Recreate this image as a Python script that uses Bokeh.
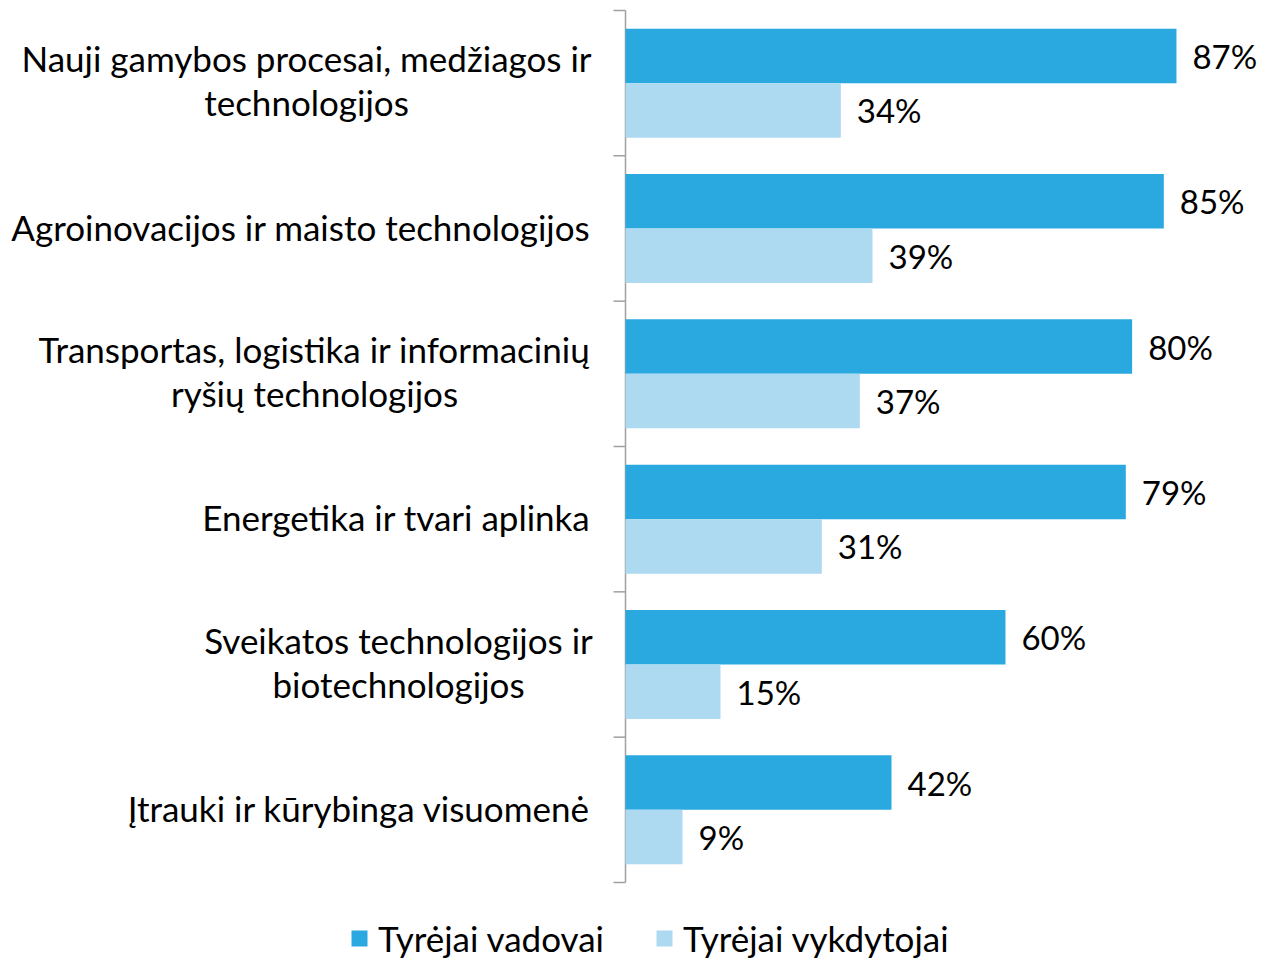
from bokeh.plotting import figure
from bokeh.models import ColumnDataSource, Legend, LegendItem
from bokeh.core.properties import value
from bokeh.embed import file_html
from bokeh.resources import INLINE

# ---- data ----
categories = [
    "Nauji gamybos procesai, medžiagos ir\ntechnologijos",
    "Agroinovacijos ir maisto technologijos",
    "Transportas, logistika ir informacinių\nryšių technologijos",
    "Energetika ir tvari aplinka",
    "Sveikatos technologijos ir\nbiotechnologijos",
    "Įtrauki ir kūrybinga visuomenė",
]
vadovai = [87, 85, 80, 79, 60, 42]
vykdytojai = [34, 39, 37, 31, 15, 9]
series_names = ["Tyrėjai vadovai", "Tyrėjai vykdytojai"]

# ---- layout / style ----
colors = ["#29a9e0", "#add9f1"]
FONT = "Lato"
FS_CAT = "35px"
FS_VAL = "33px"
FS_LEG = "35px"
W, H = 1263, 959
AX_X = 625          # pixel position of the value axis (0 %)
AX_TOP, AX_BOT = 10, 882
PX_X = 6.333        # pixels per percent
BAR_H = 0.375
TICK_PX = 12

n = len(categories)
PX_Y = (AX_BOT - AX_TOP) / n
x_start = -AX_X / PX_X
x_end = (W - AX_X) / PX_X
y_end = n + AX_TOP / PX_Y
y_start = -(H - AX_BOT) / PX_Y

def px2x(px):
    return (px - AX_X) / PX_X

centers = [n - i - 0.5 for i in range(n)]

p = figure(width=W, height=H, x_range=(x_start, x_end), y_range=(y_start, y_end),
           output_backend="svg", toolbar_location=None,
           min_border=0, min_border_left=0, min_border_right=0,
           min_border_top=0, min_border_bottom=0)
p.axis.visible = False
p.grid.visible = False
p.outline_line_color = None

# category axis line with boundary ticks
axis_col = "#a0a0a0"
p.segment(x0=[0], y0=[0], x1=[0], y1=[n], line_color=axis_col, line_width=1.5)
bounds = list(range(n + 1))
p.segment(x0=[-TICK_PX / PX_X] * len(bounds), y0=bounds, x1=[0] * len(bounds), y1=bounds,
          line_color=axis_col, line_width=1.5)

renderers = []
for k, vals in enumerate([vadovai, vykdytojai]):
    off = BAR_H / 2 if k == 0 else -BAR_H / 2
    src = ColumnDataSource(dict(
        y=[c + off for c in centers],
        right=vals,
        lab=[f"{v}%" for v in vals],
    ))
    r = p.hbar(y="y", right="right", left=0, height=BAR_H, source=src,
               fill_color=colors[k], line_color=None)
    renderers.append(r)
    p.text(x="right", y="y", text="lab", source=src,
           x_offset=16, text_baseline="middle", text_align="left",
           text_font=value(FONT), text_font_size=FS_VAL, text_color="#000000")

# category labels
block_centers = {0: 306, 2: 314, 4: 398}   # centre of two-line blocks (px)
single = dict(x=[], y=[], t=[])
multi = dict(x=[], y=[], t=[], yo=[])
for i, cat in enumerate(categories):
    lines = cat.split("\n")
    if len(lines) == 1:
        single["x"].append(px2x(590)); single["y"].append(centers[i]); single["t"].append(lines[0])
    else:
        for j, ln in enumerate(lines):
            multi["x"].append(px2x(block_centers[i])); multi["y"].append(centers[i])
            multi["t"].append(ln); multi["yo"].append(-25 if j == 0 else 19)

p.text(x="x", y="y", text="t", source=ColumnDataSource(single), y_offset=-2,
       text_align="right", text_baseline="middle",
       text_font=value(FONT), text_font_size=FS_CAT, text_color="#000000")
p.text(x="x", y="y", text="t", y_offset="yo", source=ColumnDataSource(multi),
       text_align="center", text_baseline="middle",
       text_font=value(FONT), text_font_size=FS_CAT, text_color="#000000")

legend = Legend(items=[LegendItem(label=series_names[k], renderers=[renderers[k]]) for k in range(2)],
                orientation="horizontal", location=(349, 0),
                glyph_width=20, glyph_height=20, label_standoff=9, spacing=50,
                padding=0, margin=0, border_line_color=None, background_fill_alpha=0,
                label_text_font=FONT, label_text_font_size=FS_LEG, label_text_color="#000000")
p.add_layout(legend)

open("out.html", "w").write(file_html(p, INLINE))
